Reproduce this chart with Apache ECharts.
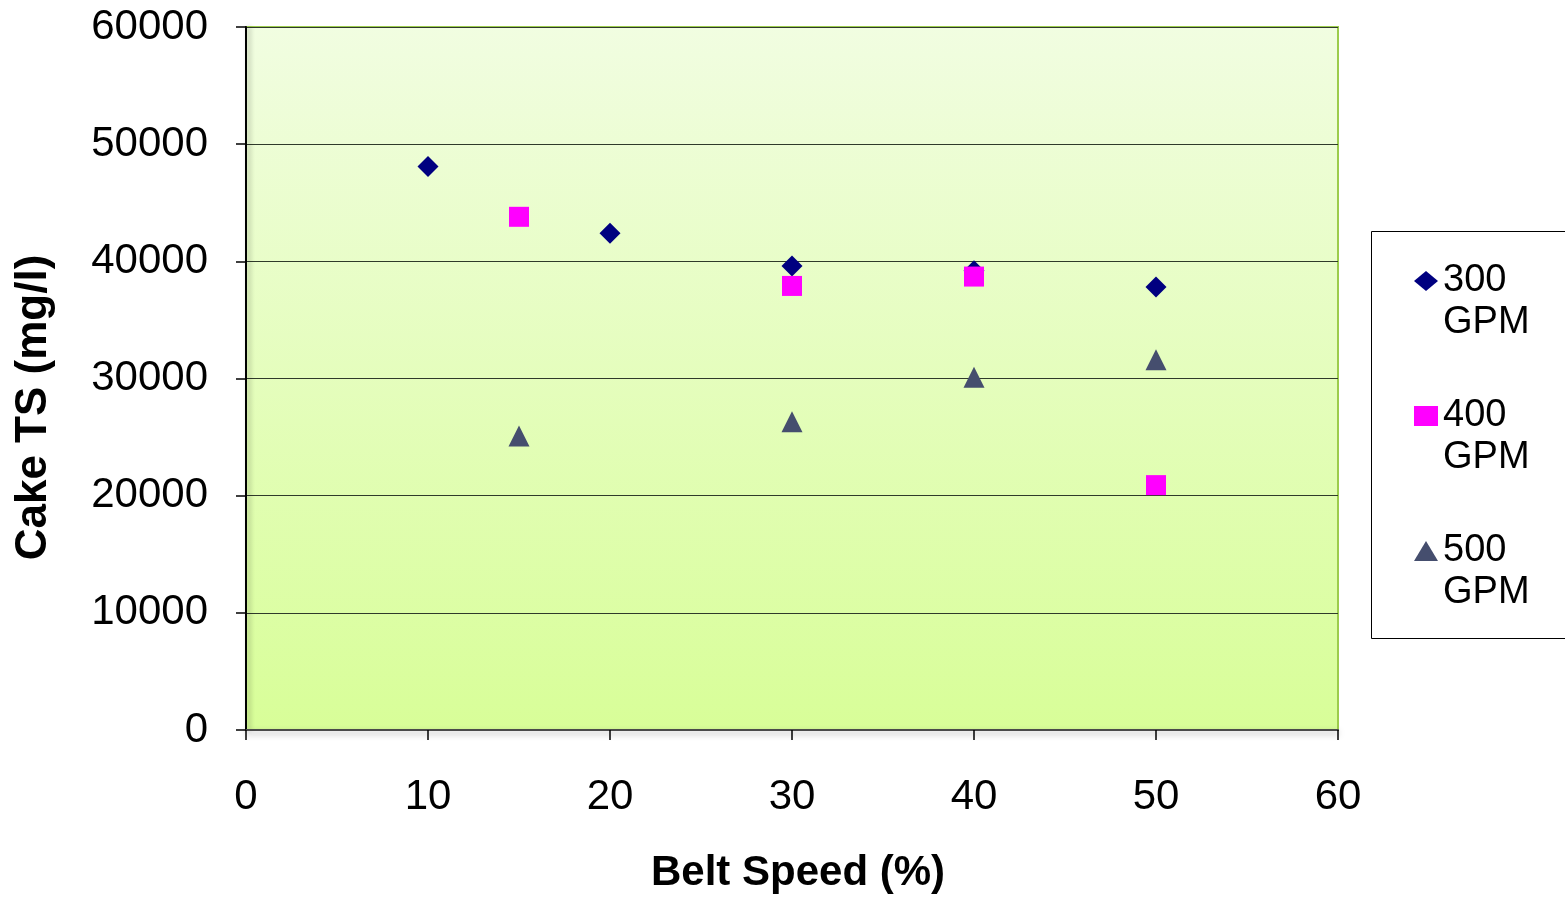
<!DOCTYPE html>
<html>
<head>
<meta charset="utf-8">
<script src="https://cdn.jsdelivr.net/npm/echarts@6/dist/echarts.min.js"></script>
<style>
html,body{margin:0;padding:0;background:#fff;}
#chart{width:1565px;height:900px;}
</style>
</head>
<body>
<div id="chart"></div>
<script>
// Data
const seriesNames = ['300 GPM', '400 GPM', '500 GPM'];
const gpm300 = [[10, 48100], [20, 42400], [30, 39600], [40, 39200], [50, 37800]];
const gpm400 = [[15, 43800], [30, 37900], [40, 38700], [50, 20900]];
const gpm500 = [[15, 25100], [30, 26300], [40, 30100], [50, 31600]];
const xTicks = [0, 10, 20, 30, 40, 50, 60];
const yTicks = [0, 10000, 20000, 30000, 40000, 50000, 60000];
const xTitle = 'Belt Speed (%)';
const yTitle = 'Cake TS (mg/l)';

const chart = echarts.init(document.getElementById('chart'), null, {renderer: 'canvas'});
const FONT = 'Liberation Sans, Arial, sans-serif';

const option = {
  animation: false,
  backgroundColor: '#ffffff',
  grid: {
    left: 246, top: 27, right: 227, bottom: 170,
    show: true,
    borderColor: '#9ccc4c',
    borderWidth: 2,
    backgroundColor: {
      type: 'linear', x: 0, y: 0, x2: 0, y2: 1,
      colorStops: [
        {offset: 0, color: '#f1fde1'},
        {offset: 1, color: '#d8fe98'}
      ]
    }
  },
  xAxis: {
    type: 'value',
    min: xTicks[0], max: xTicks[xTicks.length - 1], interval: 10,
    name: xTitle,
    nameLocation: 'middle',
    nameGap: 122,
    nameTextStyle: {fontFamily: FONT, fontSize: 42, fontWeight: 'bold', color: '#000', padding: [0, 0, 0, 12]},
    axisLine: {show: true, lineStyle: {color: '#4a4a4a', width: 2, shadowColor: 'rgba(0,0,0,0.35)', shadowBlur: 6, shadowOffsetY: 3}},
    axisTick: {show: true, length: 10, lineStyle: {color: '#000', width: 1.5}},
    axisLabel: {fontFamily: FONT, fontSize: 42, color: '#000', margin: 46,
      formatter: function (v) { return String(v); }},
    splitLine: {show: false}
  },
  yAxis: {
    type: 'value',
    min: yTicks[0], max: yTicks[yTicks.length - 1], interval: 10000,
    name: yTitle,
    nameLocation: 'middle',
    nameGap: 190,
    nameRotate: 90,
    nameTextStyle: {fontFamily: FONT, fontSize: 44, fontWeight: 'bold', color: '#000', padding: [0, 58, 0, 0]},
    axisLine: {show: true, lineStyle: {color: '#000', width: 2, shadowColor: 'rgba(0,0,0,0.3)', shadowBlur: 5, shadowOffsetX: 3}},
    axisTick: {show: true, length: 10, lineStyle: {color: '#000', width: 1.5}},
    axisLabel: {fontFamily: FONT, fontSize: 42, color: '#000', margin: 38,
      formatter: function (v) { return String(v); }},
    splitLine: {show: true, lineStyle: {color: '#2f3a2a', width: 1.2}}
  },
  legend: {
    orient: 'vertical',
    left: 1414,
    top: 218,
    itemGap: 9,
    itemWidth: 24,
    itemHeight: 20,
    padding: 0,
    borderWidth: 0,
    formatter: function (name) { return ' \n' + name.replace(' ', '\n'); },
    textStyle: {fontFamily: FONT, fontSize: 38, color: '#000', lineHeight: 42},
    data: seriesNames
  },
  graphic: [{
    type: 'rect',
    left: 1371, top: 231,
    shape: {x: 0, y: 0, width: 220, height: 407},
    style: {fill: '#ffffff', stroke: '#000', lineWidth: 1},
    z: -1
  }],
  series: [
    {name: seriesNames[0], type: 'scatter', data: gpm300, symbol: 'diamond', symbolSize: 21,
     itemStyle: {color: '#000080', opacity: 1}, z: 3},
    {name: seriesNames[1], type: 'scatter', data: gpm400, symbol: 'rect', symbolSize: 20,
     itemStyle: {color: '#ff00ff', opacity: 1}, z: 4},
    {name: seriesNames[2], type: 'scatter', data: gpm500, symbol: 'triangle', symbolSize: 21,
     itemStyle: {color: '#454e6e', opacity: 1}, z: 5}
  ]
};
chart.setOption(option);
</script>
</body>
</html>
